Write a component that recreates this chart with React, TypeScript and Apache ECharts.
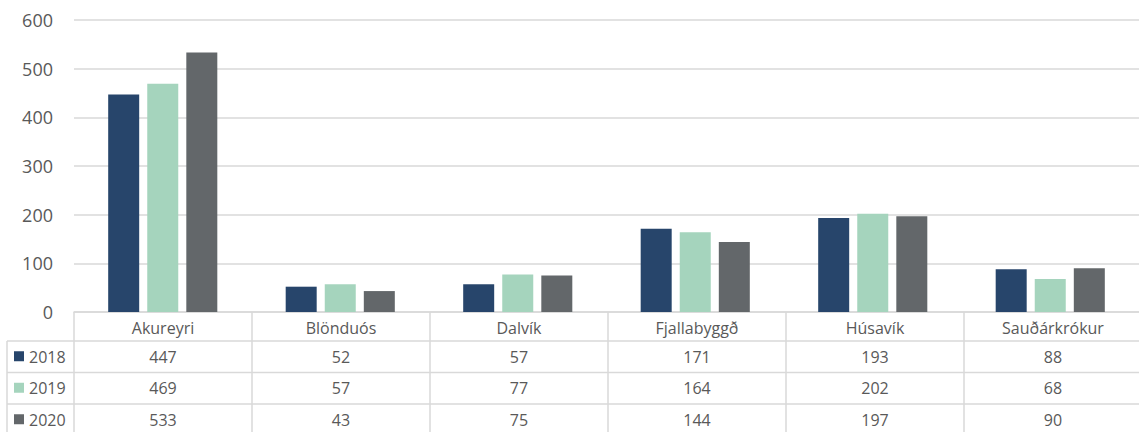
import React, { useEffect, useRef } from "react";
import * as echarts from "echarts";

const categories = ["Akureyri", "Blönduós", "Dalvík", "Fjallabyggð", "Húsavík", "Sauðárkrókur"];
const seriesNames = ["2018", "2019", "2020"];
const values2018 = [447, 52, 57, 171, 193, 88];
const values2019 = [469, 57, 77, 164, 202, 68];
const values2020 = [533, 43, 75, 144, 197, 90];
const yTicks = [0, 100, 200, 300, 400, 500, 600];

const colors = ["#27456b", "#a5d4bd", "#63676a"];
const allValues = [values2018, values2019, values2020];

const GRID_LEFT = 74;
const GRID_TOP = 20;
const GRID_WIDTH = 1068;
const GRID_HEIGHT = 292;
const CAT_ROW_H = 29;
const ROW_H = 31.5;
const TABLE_LEFT = 7;
const LINE_COLOR = "#d9d9d9";
const TEXT_COLOR = "#595959";
const FONT_FAMILY = "'Open Sans', 'Noto Sans', sans-serif";

export default function App() {
  const ref = useRef<HTMLDivElement>(null);

  useEffect(() => {
    if (!ref.current) return;
    const chart = echarts.init(ref.current, null, { renderer: "svg" });

    const colW = GRID_WIDTH / categories.length;
    const axisY = GRID_TOP + GRID_HEIGHT;
    const right = GRID_LEFT + GRID_WIDTH;
    const graphics: any[] = [];
    const lineStyle = { stroke: LINE_COLOR, lineWidth: 1.5 };

    // horizontal table lines
    const rowTops: number[] = [];
    for (let r = 0; r <= seriesNames.length; r++) {
      const y = axisY + CAT_ROW_H + r * ROW_H;
      rowTops.push(y);
      graphics.push({ type: "line", shape: { x1: TABLE_LEFT, y1: y, x2: right, y2: y }, style: lineStyle, silent: true });
    }
    // vertical table lines
    for (let c = 0; c <= categories.length; c++) {
      const x = GRID_LEFT + c * colW;
      graphics.push({ type: "line", shape: { x1: x, y1: axisY, x2: x, y2: 440 }, style: lineStyle, silent: true });
    }
    graphics.push({ type: "line", shape: { x1: TABLE_LEFT, y1: rowTops[0], x2: TABLE_LEFT, y2: 440 }, style: lineStyle, silent: true });

    // category names
    categories.forEach((cat, i) => {
      graphics.push({
        type: "text",
        silent: true,
        style: {
          text: cat,
          x: GRID_LEFT + (i + 0.5) * colW,
          y: axisY + CAT_ROW_H / 2 + 1,
          textAlign: "center",
          textVerticalAlign: "middle",
          align: "center",
          verticalAlign: "middle",
          fill: TEXT_COLOR,
          font: `16px ${FONT_FAMILY}`,
        },
      });
    });

    // data rows
    seriesNames.forEach((name, r) => {
      const cy = rowTops[r] + ROW_H / 2;
      graphics.push({
        type: "rect",
        silent: true,
        shape: { x: 14, y: cy - 5.5, width: 10, height: 10 },
        style: { fill: colors[r] },
      });
      graphics.push({
        type: "text",
        silent: true,
        style: {
          text: name,
          x: 29,
          y: cy,
          textAlign: "left",
          textVerticalAlign: "middle",
          align: "left",
          verticalAlign: "middle",
          fill: TEXT_COLOR,
          font: `16px ${FONT_FAMILY}`,
        },
      });
      allValues[r].forEach((v, i) => {
        graphics.push({
          type: "text",
          silent: true,
          style: {
            text: String(v),
            x: GRID_LEFT + (i + 0.5) * colW,
            y: cy,
            textAlign: "center",
            textVerticalAlign: "middle",
            align: "center",
            verticalAlign: "middle",
            fill: TEXT_COLOR,
            font: `16px ${FONT_FAMILY}`,
          },
        });
      });
    });

    chart.setOption({
      animation: false,
      grid: { left: GRID_LEFT, top: GRID_TOP, width: GRID_WIDTH, height: GRID_HEIGHT, containLabel: false },
      xAxis: {
        type: "category",
        data: categories,
        axisLine: { show: true, lineStyle: { color: LINE_COLOR, width: 1.5 } },
        axisTick: { show: false },
        axisLabel: { show: false },
      },
      yAxis: {
        type: "value",
        min: yTicks[0],
        max: yTicks[yTicks.length - 1],
        interval: 100,
        axisLine: { show: false },
        axisTick: { show: false },
        axisLabel: { color: TEXT_COLOR, fontSize: 18, fontFamily: FONT_FAMILY, margin: 21 },
        splitLine: { lineStyle: { color: LINE_COLOR, width: 1.5 } },
      },
      series: seriesNames.map((name, r) => ({
        name,
        type: "bar",
        data: allValues[r],
        barWidth: 31,
        barGap: "26%",
        itemStyle: { color: colors[r] },
      })),
      graphic: graphics,
    });

    return () => chart.dispose();
  }, []);

  return (
    <div
      ref={ref}
      style={{ position: "fixed", left: 0, top: 0, width: 1139, height: 432, background: "#fff" }}
    />
  );
}
